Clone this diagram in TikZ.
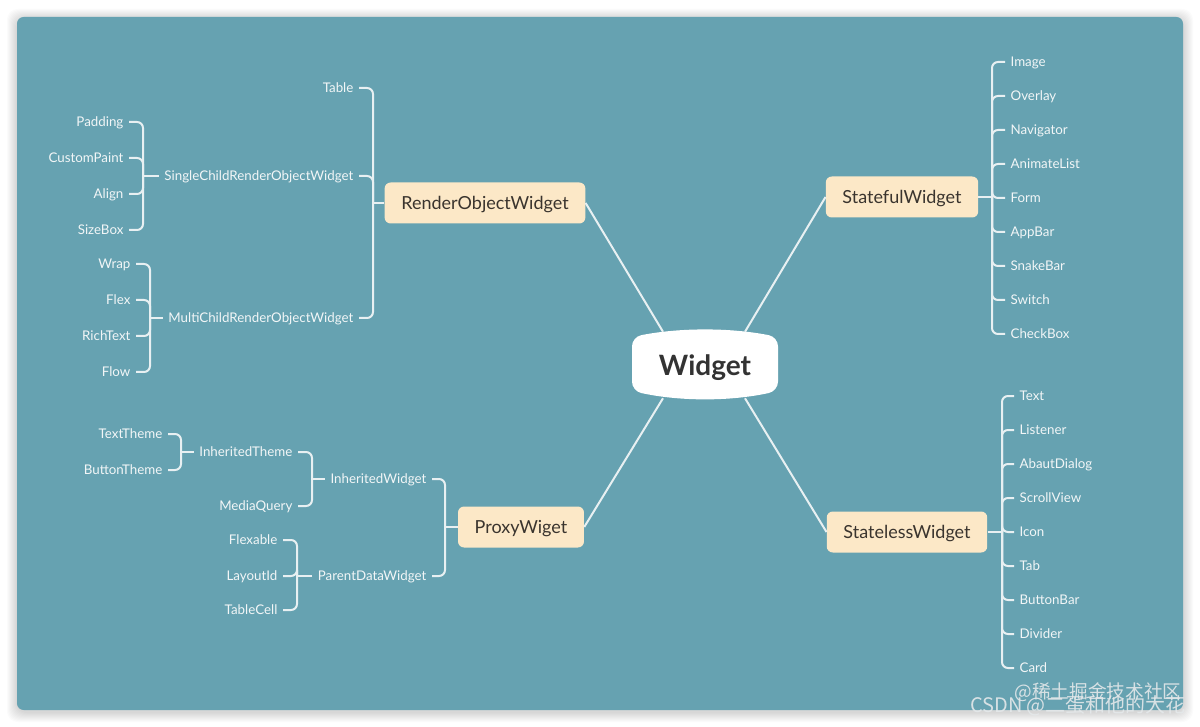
\documentclass[tikz,border=0pt]{standalone}
\usepackage{fontspec}
\setmainfont{Lato}
\newfontfamily\cjkfont{Noto Sans CJK SC}
\usepackage{tikz}
\usetikzlibrary{calc}

\definecolor{tealbg}{RGB}{102,162,177}
\definecolor{boxfill}{RGB}{252,232,199}
\definecolor{boxtext}{RGB}{58,52,46}
\definecolor{linec}{RGB}{232,240,242}
\definecolor{leaftext}{RGB}{242,246,247}
\definecolor{roottext}{RGB}{51,51,51}
\definecolor{marktext}{RGB}{228,232,234}

\begin{document}
\begin{tikzpicture}[x=0.75pt,y=-0.75pt,
    root node/.style={minimum width=109.5pt,minimum height=49.5pt,text=roottext,
                      text height=15pt,text depth=0pt,
                      font=\fontsize{21}{24}\selectfont\bfseries},
    main node/.style={fill=boxfill,rounded corners=4.5pt,inner xsep=12.5pt,
                      minimum height=30.75pt,text height=9.7pt,text depth=0pt,
                      text=boxtext,font=\fontsize{13.5}{16}\selectfont},
    leaf node/.style={inner sep=4pt,text height=7.2pt,text depth=0pt,text=leaftext,
                      font=\fontsize{10}{12}\selectfont},
    left leaf/.style={leaf node,anchor=east},
    right leaf/.style={leaf node,anchor=west},
    spoke/.style={draw=linec,line width=1.5pt},
    branch/.style={draw=linec,line width=1.5pt,rounded corners=4.5pt},
    bus/.style={rounded corners=4.5pt,to path={|- (\tikztotarget)}},
    watermark/.style={text=marktext,opacity=0.9,font=\cjkfont\fontsize{14}{16}\selectfont}]

  % page, shadow and board
  \useasboundingbox (0,0) rectangle (1200,727);
  \fill[white] (0,0) rectangle (1200,727);
  \foreach \s in {1,...,10}
    \fill[black,opacity=0.016,rounded corners=8] (17-\s,17-\s+2) rectangle (1183+\s,710+\s+2);
  \fill[tealbg,rounded corners=5] (17,17) rectangle (1183,710);

  % centre
  \fill[white,rounded corners=7] (632,364) -- (632,337)
    .. controls (680,327.5) and (730,327.5) .. (778,337) -- (778,391)
    .. controls (730,401.5) and (680,401.5) .. (632,391) -- cycle;
  \node[root node] (w) at (705,365) {Widget};

  \node[main node] (ro) at (485,203) {RenderObjectWidget};
  \node[main node] (sf) at (902,197) {StatefulWidget};
  \node[main node] (sl) at (907,532) {StatelessWidget};
  \node[main node] (pw) at (521,527) {ProxyWiget};

  \draw[spoke] ($(w.north)+(-42,0)$) -- (ro.east);
  \draw[spoke] ($(w.north)+(40,0)$) -- (sf.west);
  \draw[spoke] ($(w.south)+(40,0)$) -- (sl.west);
  \draw[spoke] ($(w.south)+(-42,0)$) -- (pw.east);

  % StatefulWidget
  \node[right leaf] (image) at (1005,62) {Image};
  \node[right leaf] (overlay) at (1005,96) {Overlay};
  \node[right leaf] (navigator) at (1005,130) {Navigator};
  \node[right leaf] (animlist) at (1005,164) {AnimateList};
  \node[right leaf] (form) at (1005,198) {Form};
  \node[right leaf] (appbar) at (1005,232) {AppBar};
  \node[right leaf] (snakebar) at (1005,266) {SnakeBar};
  \node[right leaf] (switch) at (1005,300) {Switch};
  \node[right leaf] (checkbox) at (1005,334) {CheckBox};
  \coordinate (sfb) at (992,197);
  \draw[branch] (sf.east) -- (sfb)
    edge[bus] (image.west) edge[bus] (overlay.west) edge[bus] (navigator.west)
    edge[bus] (animlist.west) edge[bus] (form.west) edge[bus] (appbar.west)
    edge[bus] (snakebar.west) edge[bus] (switch.west) edge[bus] (checkbox.west);

  % StatelessWidget
  \node[right leaf] (text) at (1014,396) {Text};
  \node[right leaf] (listener) at (1014,430) {Listener};
  \node[right leaf] (aboutdlg) at (1014,464) {AbautDialog};
  \node[right leaf] (scrollview) at (1014,498) {ScrollView};
  \node[right leaf] (icon) at (1014,532) {Icon};
  \node[right leaf] (tab) at (1014,566) {Tab};
  \node[right leaf] (buttonbar) at (1014,600) {ButtonBar};
  \node[right leaf] (divider) at (1014,634) {Divider};
  \node[right leaf] (card) at (1014,668) {Card};
  \coordinate (slb) at (1002,532);
  \draw[branch] (sl.east) -- (slb)
    edge[bus] (text.west) edge[bus] (listener.west) edge[bus] (aboutdlg.west)
    edge[bus] (scrollview.west) edge[bus] (icon.west) edge[bus] (tab.west)
    edge[bus] (buttonbar.west) edge[bus] (divider.west) edge[bus] (card.west);

  % RenderObjectWidget
  \node[left leaf] (table) at (359,88) {Table};
  \node[left leaf] (single) at (359,176) {SingleChildRenderObjectWidget};
  \node[left leaf] (multi) at (359,318) {MultiChildRenderObjectWidget};
  \coordinate (rob) at (373,203);
  \draw[branch] (ro.west) -- (rob)
    edge[bus] (table.east) edge[bus] (single.east) edge[bus] (multi.east);

  \node[left leaf] (padding) at (129,122) {Padding};
  \node[left leaf] (custompaint) at (129,158) {CustomPaint};
  \node[left leaf] (align) at (129,194) {Align};
  \node[left leaf] (sizebox) at (129,230) {SizeBox};
  \coordinate (singleb) at (143,176);
  \draw[branch] (single.west) -- (singleb)
    edge[bus] (padding.east) edge[bus] (custompaint.east)
    edge[bus] (align.east) edge[bus] (sizebox.east);

  \node[left leaf] (wrap) at (136,264) {Wrap};
  \node[left leaf] (flex) at (136,300) {Flex};
  \node[left leaf] (richtext) at (136,336) {RichText};
  \node[left leaf] (flow) at (136,372) {Flow};
  \coordinate (multib) at (150,318);
  \draw[branch] (multi.west) -- (multib)
    edge[bus] (wrap.east) edge[bus] (flex.east)
    edge[bus] (richtext.east) edge[bus] (flow.east);

  % ProxyWiget
  \node[left leaf] (inhw) at (432,479) {InheritedWidget};
  \node[left leaf] (pdata) at (432,576) {ParentDataWidget};
  \coordinate (pwb) at (445,527);
  \draw[branch] (pw.west) -- (pwb) edge[bus] (inhw.east) edge[bus] (pdata.east);

  \node[left leaf] (inhtheme) at (298,452) {InheritedTheme};
  \node[left leaf] (mediaquery) at (298,506) {MediaQuery};
  \coordinate (inhwb) at (312,479);
  \draw[branch] (inhw.west) -- (inhwb)
    edge[bus] (inhtheme.east) edge[bus] (mediaquery.east);

  \node[left leaf] (texttheme) at (168,434) {TextTheme};
  \node[left leaf] (buttontheme) at (168,470) {ButtonTheme};
  \coordinate (inhthemeb) at (181,452);
  \draw[branch] (inhtheme.west) -- (inhthemeb)
    edge[bus] (texttheme.east) edge[bus] (buttontheme.east);

  \node[left leaf] (flexable) at (283,540) {Flexable};
  \node[left leaf] (layoutid) at (283,576) {LayoutId};
  \node[left leaf] (tablecell) at (283,610) {TableCell};
  \coordinate (pdatab) at (297,576);
  \draw[branch] (pdata.west) -- (pdatab)
    edge[bus] (flexable.east) edge[bus] (layoutid.east) edge[bus] (tablecell.east);

  % watermarks
  \node[watermark] (juejin) at (1098,692) {@稀土掘金技术社区};
  \node[watermark,font=\cjkfont\fontsize{15}{17}\selectfont] (csdn) at (1078,706) {CSDN @二蛋和他的大花};
\end{tikzpicture}
\end{document}
